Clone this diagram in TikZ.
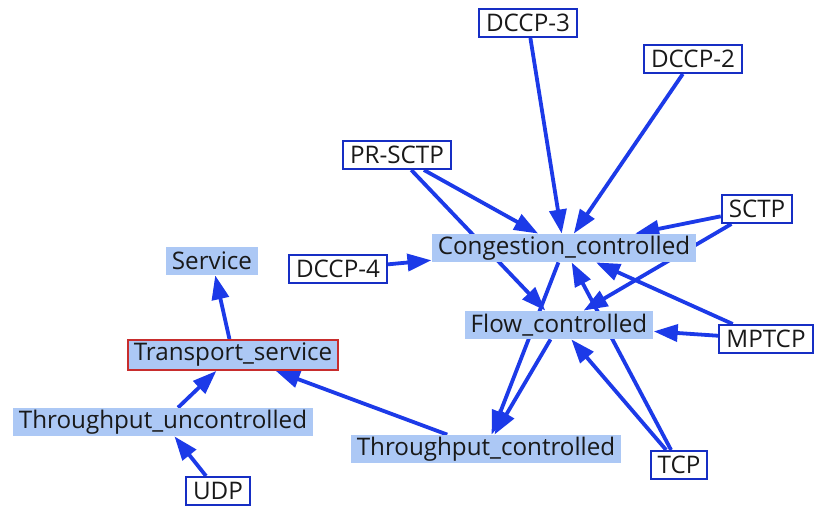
\documentclass[tikz,border=0pt]{standalone}
\usepackage{fontspec}
\setmainfont{Open Sans}
\usetikzlibrary{arrows.meta,backgrounds}

\definecolor{clsfill}{RGB}{172,200,245}
\definecolor{isablue}{RGB}{28,58,232}
\definecolor{instblue}{RGB}{22,46,196}
\definecolor{rootred}{RGB}{200,45,45}

\tikzset{
  cls/.style={fill=clsfill, inner xsep=3pt, inner ysep=0pt, minimum height=14pt,
    font=\fontsize{12.1}{13}\selectfont, text=black!90},
  inst/.style={cls, fill=white, draw=instblue, line width=1pt, inner xsep=3.5pt},
  rootcls/.style={cls, draw=rootred, line width=0.9pt, minimum height=15pt},
  isa/.style={draw=isablue, line width=1.9pt,
    -{Triangle[length=12pt,width=8.5pt]}}
}

\begin{document}
\begin{tikzpicture}[x=0.5pt,y=-0.5pt]
  \useasboundingbox (0,0) rectangle (815,506);

  % classes
  \node[cls] (congestion) at (564,248) {Congestion\_controlled};
  \node[cls] (flow) at (559,325) {Flow\_controlled};
  \node[cls] (service) at (212,261) {Service};
  \node[rootcls] (transport) at (233,355) {Transport\_service};
  \node[cls] (tpuncontr) at (163,422) {Throughput\_uncontrolled};
  \node[cls] (tpcontr) at (486,449) {Throughput\_controlled};

  % instances
  \node[inst] (dccpthree) at (528,23) {DCCP-3};
  \node[inst] (dccptwo) at (693,59) {DCCP-2};
  \node[inst] (prsctp) at (397,155) {PR-SCTP};
  \node[inst] (sctp) at (757,209) {SCTP};
  \node[inst] (dccpfour) at (338,269) {DCCP-4};
  \node[inst] (mptcp) at (766,339) {MPTCP};
  \node[inst] (tcp) at (679,465) {TCP};
  \node[inst] (udp) at (218,491) {UDP};

  \begin{pgfonlayer}{background}
    \draw[isa] (dccpthree) -- (congestion);
    \draw[isa] (dccptwo) -- (congestion);
    \draw[isa] (prsctp) -- (congestion);
    \draw[isa] (prsctp) -- (flow);
    \draw[isa] (sctp) -- (congestion);
    \draw[isa] (sctp) -- (flow);
    \draw[isa] (dccpfour) -- (congestion);
    \draw[isa] (mptcp) -- (congestion);
    \draw[isa] (mptcp) -- (flow);
    \draw[isa] (tcp) -- (congestion);
    \draw[isa] (tcp) -- (flow);
    \draw[isa] (congestion) -- (tpcontr);
    \draw[isa] (flow) -- (tpcontr);
    \draw[isa] (tpcontr) -- (transport);
    \draw[isa] (tpuncontr) -- (transport);
    \draw[isa] (transport) -- (service);
    \draw[isa] (udp) -- (tpuncontr);
  \end{pgfonlayer}
\end{tikzpicture}
\end{document}
